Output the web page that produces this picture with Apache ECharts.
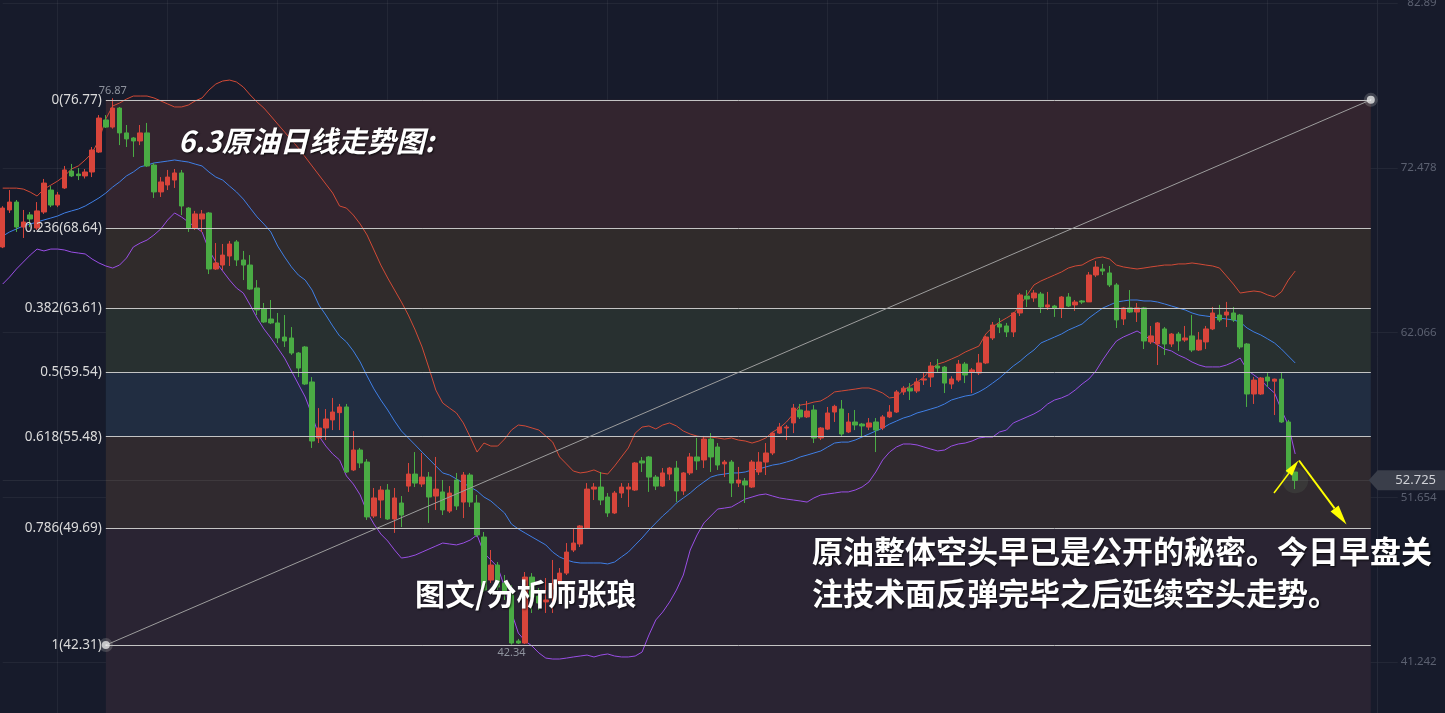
<!DOCTYPE html>
<html>
<head>
<meta charset="utf-8">
<script src="https://cdn.jsdelivr.net/npm/echarts@6.0.0/dist/echarts.min.js"></script>
<style>
html,body{margin:0;padding:0;background:#171b2b;}
#c{width:1445px;height:713px;}
</style>
</head>
<body>
<div id="c"></div>
<script>
// ---------- DATA ----------
// 189 daily sessions followed by empty space to the right edge
const categories = Array.from({length: 201}, (_, i) => String(i));

const opens = [
67.47,69.81,70.31,68.73,69.50,68.67,69.68,71.07,70.12,71.20,
72.27,72.08,71.96,72.21,73.47,75.50,75.05,76.25,74.68,74.36,
74.17,74.68,72.65,70.95,71.39,71.70,72.15,69.93,68.67,69.24,
69.62,66.08,66.33,66.90,67.79,66.65,66.33,64.88,63.55,62.92,
62.67,61.78,61.72,60.77,61.15,58.94,55.40,56.03,56.54,57.00,
57.36,53.38,54.64,53.88,50.47,51.48,52.11,50.28,51.29,52.36,
53.12,52.49,52.93,51.73,51.99,50.78,52.74,51.35,53.06,51.29,
49.14,46.42,47.37,46.23,45.48,42.57,42.44,46.61,45.41,45.04,
45.85,46.23,46.86,48.32,48.70,49.71,52.17,52.30,51.67,50.66,
51.92,52.17,52.11,53.95,54.20,52.93,52.36,53.12,53.50,52.05,
53.19,54.20,54.01,55.33,54.83,53.76,53.88,52.55,52.68,52.30,
53.25,53.88,54.45,55.71,56.03,56.35,57.17,56.73,57.17,55.40,
55.96,57.04,57.23,55.78,56.41,56.28,56.09,56.41,56.03,56.73,
57.04,58.31,58.55,58.37,59.06,59.25,59.95,59.88,58.81,59.06,
60.07,59.57,59.51,60.14,61.72,62.60,62.48,62.10,63.30,64.37,
64.25,64.50,63.68,63.74,63.62,64.31,63.81,64.06,64.00,65.70,
66.08,65.83,65.07,62.92,63.62,63.36,63.62,61.47,61.34,62.29,
61.34,61.97,61.59,61.85,60.96,61.47,62.29,63.17,63.17,63.30,
63.17,61.34,58.18,58.18,59.25,58.99,59.12,56.41,53.25];

const closes = [
69.93,70.31,68.73,69.05,69.24,69.75,71.51,70.12,70.76,72.34,
71.96,71.98,72.21,73.60,75.62,75.05,76.25,74.68,74.30,74.17,
74.68,72.59,70.95,71.58,71.89,72.15,70.06,68.67,69.56,69.56,
66.08,66.46,66.96,67.66,66.65,66.33,64.81,63.49,62.73,62.67,
61.72,61.53,60.77,59.82,58.81,55.21,56.03,56.60,57.04,57.36,
53.25,54.64,53.82,50.41,51.61,52.11,50.28,51.61,50.53,53.12,
52.55,52.93,51.67,52.17,50.85,51.92,51.10,53.06,51.35,49.27,
45.79,47.37,45.98,45.66,42.44,42.44,46.61,45.35,44.97,45.16,
46.17,46.86,48.19,48.76,49.84,52.17,52.30,51.48,50.66,51.92,
52.30,52.30,53.82,53.82,52.93,52.36,53.19,53.50,52.05,53.19,
54.20,53.95,55.33,54.20,53.69,53.88,52.55,52.74,52.43,53.88,
53.88,54.45,55.71,56.09,56.09,57.29,56.73,57.10,55.40,56.03,
56.98,57.40,55.65,56.41,56.22,56.16,56.35,55.90,56.73,57.04,
58.31,58.55,58.37,58.94,59.13,59.95,59.82,58.87,59.13,60.07,
59.38,59.70,60.14,61.78,62.54,62.41,62.10,63.30,64.44,64.18,
64.56,63.68,63.81,63.62,64.31,63.74,63.99,63.99,65.70,66.20,
65.95,65.07,62.86,63.62,63.36,63.62,61.53,61.85,62.67,61.34,
61.97,61.53,61.72,60.96,61.59,62.29,63.30,62.86,63.36,62.86,
61.15,58.18,59.06,59.19,59.00,59.12,56.41,53.25,52.725];

const lows = [
67.40,69.62,68.42,68.04,68.73,68.55,69.56,69.99,69.99,71.14,
71.89,71.70,71.80,71.89,73.41,74.99,74.95,73.91,73.79,73.16,
73.91,72.53,70.57,70.63,71.07,71.20,69.49,68.42,68.55,68.42,
65.76,66.02,66.02,66.27,66.27,65.38,64.75,63.17,62.67,62.60,
61.40,61.15,60.65,59.25,58.75,54.77,55.08,55.27,55.90,55.90,
53.19,53.31,53.50,50.22,50.34,50.34,50.22,49.40,49.77,51.99,
52.30,52.30,50.03,50.85,50.53,50.66,50.85,50.34,51.04,49.14,
45.66,46.23,45.79,45.16,42.34,42.38,42.38,44.34,44.53,44.34,
44.34,46.10,46.74,48.19,48.51,49.65,51.48,51.16,50.41,50.60,
51.61,51.04,52.05,53.25,51.99,52.11,52.30,52.74,51.35,51.80,
53.06,53.38,53.50,53.25,53.38,52.93,51.67,52.30,51.29,52.24,
53.06,53.06,54.32,55.65,55.27,55.71,56.60,56.66,55.08,55.27,
55.90,56.41,55.53,55.71,55.90,55.46,55.90,54.51,55.90,56.66,
56.98,58.12,57.80,58.24,58.75,58.62,59.57,58.24,58.50,58.94,
58.87,58.24,59.38,60.07,61.59,62.03,61.78,61.78,63.11,63.68,
64.00,63.30,63.49,63.05,62.98,63.68,63.43,63.87,64.00,65.57,
65.70,64.94,62.35,62.54,63.30,62.73,61.02,61.34,60.01,60.64,
61.15,60.90,61.47,60.83,60.90,61.02,62.22,62.73,62.41,62.73,
61.02,57.36,57.55,58.12,58.62,56.85,56.35,53.19,52.17];

const highs = [
70.05,71.07,70.44,69.81,69.68,70.31,71.77,71.32,70.95,72.59,
72.72,72.46,72.40,73.79,75.81,75.81,76.87,76.32,75.18,74.42,
75.18,75.31,72.78,71.89,72.34,72.40,72.34,69.99,69.75,69.81,
69.68,67.72,67.66,67.85,67.91,67.22,66.96,65.38,63.93,64.12,
63.30,63.17,62.41,60.83,61.21,59.25,57.29,57.23,57.93,57.55,
57.55,55.84,54.77,54.07,52.24,52.36,52.49,52.24,51.73,53.82,
54.51,54.45,53.25,54.20,52.74,52.36,53.19,53.25,53.19,51.80,
49.46,48.32,47.56,46.74,46.10,42.70,46.93,46.86,45.92,46.55,
47.69,47.18,48.76,49.71,49.90,52.55,52.55,53.25,51.92,52.05,
52.55,52.55,53.88,54.20,54.26,53.06,53.50,53.57,53.95,53.25,
54.45,55.40,55.53,55.71,55.08,54.01,54.01,53.57,52.87,54.01,
54.51,55.08,55.78,56.35,56.22,57.55,57.55,57.74,57.48,56.09,
57.36,57.50,57.80,56.98,57.17,56.35,56.66,56.66,56.85,57.48,
58.43,58.68,58.87,59.19,59.57,60.20,60.39,59.95,59.30,60.33,
60.20,59.82,60.71,61.85,62.73,62.98,62.67,63.36,64.56,64.75,
64.75,64.63,64.63,63.81,64.37,64.56,64.12,64.12,65.89,66.58,
66.40,66.27,65.19,63.68,64.75,63.93,63.68,62.48,62.73,62.41,
62.03,62.10,62.48,63.17,62.10,62.48,63.68,63.81,64.00,63.68,
63.24,61.40,59.25,59.25,59.50,59.15,59.57,56.54,53.25];

const bollUpper = [
71.19,71.19,71.19,71.13,70.94,70.69,71.13,71.38,71.64,71.96,
72.40,72.59,72.97,73.41,74.23,75.56,76.38,76.57,76.82,77.01,
77.01,77.01,76.89,76.70,76.51,76.32,76.32,76.44,76.70,76.89,
77.39,77.77,77.96,78.02,77.90,77.58,77.08,76.63,76.25,75.75,
75.24,74.74,74.23,73.73,73.16,72.59,72.02,71.45,70.88,70.06,
69.93,69.49,68.92,68.23,67.28,66.33,65.51,64.75,63.99,63.17,
62.22,61.15,59.82,58.43,57.61,57.29,56.98,56.35,55.46,54.51,
55.08,54.89,54.89,55.33,55.90,56.22,56.16,56.03,55.90,55.52,
55.14,54.20,53.76,53.31,53.19,53.25,53.38,53.19,53.12,53.63,
54.20,54.77,55.71,56.09,56.16,55.97,56.22,56.35,56.16,55.84,
55.65,55.52,55.46,55.46,55.40,55.33,55.40,55.27,55.21,55.08,
55.21,55.40,55.78,56.03,56.41,56.92,57.48,57.55,57.67,57.74,
57.99,58.31,58.37,58.43,58.49,58.56,58.56,58.43,58.24,57.93,
57.99,58.43,58.68,58.94,59.25,59.76,60.07,60.20,60.39,60.58,
60.83,61.02,61.21,61.97,62.41,62.73,62.98,63.24,63.80,64.44,
65.07,65.32,65.51,65.70,65.89,66.14,66.27,66.33,66.58,66.77,
66.84,66.71,66.33,66.21,66.14,66.08,66.14,66.21,66.27,66.33,
66.33,66.40,66.40,66.46,66.40,66.33,66.27,66.14,65.64,65.13,
64.56,64.63,64.69,64.63,64.44,64.31,64.63,65.38,65.95];

const bollMid = [
68.16,68.42,68.61,68.80,68.92,69.05,69.18,69.30,69.43,69.62,
69.75,69.87,70.06,70.31,70.57,70.88,71.26,71.58,71.96,72.21,
72.53,72.65,72.78,72.84,72.90,72.97,72.90,72.84,72.71,72.59,
72.21,71.89,71.70,71.32,70.95,70.50,69.93,69.37,68.92,68.42,
67.53,66.84,66.21,65.70,65.38,64.75,63.80,63.17,62.48,61.85,
61.47,60.90,60.20,59.32,58.50,57.80,57.17,56.47,55.84,55.40,
54.96,54.51,54.07,53.63,53.19,53.06,52.81,52.55,52.30,52.05,
51.67,51.42,51.04,50.66,49.96,49.65,49.39,49.14,48.89,48.64,
48.19,47.88,47.69,47.56,47.50,47.50,47.50,47.50,47.44,47.56,
47.88,48.19,48.64,49.08,49.58,50.03,50.47,50.85,51.29,51.61,
51.92,52.30,52.62,52.93,53.06,53.12,53.19,53.19,53.25,53.38,
53.44,53.57,53.69,53.76,53.88,54.01,54.20,54.32,54.45,54.58,
54.83,55.08,55.14,55.14,55.27,55.46,55.65,55.84,56.03,56.28,
56.47,56.66,56.79,56.98,57.10,57.23,57.36,57.55,57.80,57.93,
58.05,58.12,58.31,58.56,58.87,59.19,59.57,59.95,60.26,60.64,
60.96,61.40,61.59,61.78,61.97,62.22,62.41,62.60,62.98,63.30,
63.61,63.80,63.99,64.06,64.12,64.12,64.06,64.06,63.99,63.87,
63.74,63.61,63.49,63.30,63.17,63.11,63.05,62.98,62.92,62.86,
62.73,62.35,62.10,61.91,61.66,61.40,61.02,60.58,60.14];

const bollLower = [
65.13,65.57,66.08,66.52,66.96,67.34,67.22,67.34,67.34,67.28,
67.15,67.09,67.03,66.71,66.46,66.27,66.14,66.33,66.77,67.47,
67.72,67.91,68.23,68.61,69.18,69.62,69.37,69.05,68.73,68.42,
67.28,66.52,65.95,65.38,64.88,64.56,63.80,62.98,62.29,61.72,
61.09,60.45,59.63,58.81,57.99,56.85,55.52,54.89,54.39,54.01,
53.00,52.49,51.80,50.72,49.96,49.33,48.89,48.32,47.81,47.88,
48.00,48.19,48.38,48.57,48.76,48.70,48.64,48.76,48.95,49.27,
48.13,47.69,47.25,45.98,44.40,43.07,42.57,42.25,41.81,41.49,
41.43,41.43,41.49,41.56,41.62,41.68,41.56,41.68,41.75,41.62,
41.56,41.56,41.62,41.87,42.95,43.90,44.40,45.03,45.79,46.74,
48.32,49.27,50.03,50.47,50.91,50.97,51.04,51.29,51.54,51.67,
51.80,51.86,51.73,51.61,51.54,51.48,51.42,51.35,51.61,51.80,
51.86,51.92,51.99,51.99,52.11,52.30,52.62,53.25,54.01,54.51,
54.83,55.02,55.02,54.96,54.83,54.70,54.58,54.64,54.89,55.02,
55.08,55.21,55.40,55.46,55.46,55.78,55.90,56.35,56.54,56.73,
56.92,57.17,57.55,57.80,57.93,58.12,58.43,58.81,59.13,59.63,
60.33,60.96,61.53,61.78,61.97,62.16,61.91,61.59,61.28,61.02,
60.90,60.64,60.45,60.20,60.01,59.89,59.89,59.89,60.01,60.20,
60.45,59.70,59.38,59.06,58.62,58.24,57.17,56.22,54.39];

const fibRatios = ['0', '0.236', '0.382', '0.5', '0.618', '0.786', '1'];
const fibValues = [76.77, 68.64, 63.61, 59.54, 55.48, 49.69, 42.31];
const yTicks = [41.242, 51.654, 62.066, 72.478, 82.89];
const lastPrice = 52.725;

// ---------- CHART ----------
const yMin = 38.019, yMax = 83.08;
const fibStart = 15, fibEnd = 199;
const fibColors = ['#33252f', '#302b2b', '#283030', '#212d41', '#302a2f', '#2a2433', '#2a2433'];

const candleData = opens.map((o, i) => [o, closes[i], lows[i], highs[i]]);

const fibAreas = [];
for (let k = 0; k < fibValues.length; k++) {
  const lower = k < fibValues.length - 1 ? fibValues[k + 1] : yMin;
  fibAreas.push([
    {xAxis: fibStart, yAxis: fibValues[k], itemStyle: {color: fibColors[k]}},
    {xAxis: fibEnd, yAxis: lower}
  ]);
}
const fibLines = fibValues.map((v, k) => [
  {coord: [fibStart, v], name: fibRatios[k] + '(' + v.toFixed(2) + ')'},
  {coord: [fibEnd, v]}
]);

const gridLineColor = 'rgba(255,255,255,0.055)';

const chart = echarts.init(document.getElementById('c'));
const option = {
  backgroundColor: '#171b2b',
  animation: false,
  textStyle: {fontFamily: '"Noto Sans", sans-serif'},
  grid: {left: 2.7, right: 67.3, top: 0, bottom: 0, containLabel: false, outerBoundsMode: 'none'},
  xAxis: {
    type: 'category', data: categories, boundaryGap: false,
    axisLine: {show: false}, axisTick: {show: false}, axisLabel: {show: false},
    splitLine: {show: true, interval: (i) => i % 16 === 8, lineStyle: {color: gridLineColor, width: 1}}
  },
  yAxis: {
    type: 'value', position: 'right', min: yMin, max: yMax,
    axisLine: {show: true, lineStyle: {color: '#262a39'}},
    axisTick: {show: true, customValues: yTicks, length: 20, lineStyle: {color: gridLineColor}},
    axisLabel: {
      customValues: yTicks, color: '#5b6070', fontSize: 11.5, align: 'right', margin: 59,
      formatter: (v) => String(v)
    },
    splitLine: {show: true, lineStyle: {color: gridLineColor, width: 1}}
  },
  series: [
    {
      name: 'fibBands', type: 'line', data: [], z: 1, silent: true,
      markArea: {silent: true, data: fibAreas}
    },
    {
      name: 'K', type: 'candlestick', data: candleData, z: 3, barWidth: 5,
      itemStyle: {color: '#d8453b', color0: '#4aab44', borderColor: '#d8453b', borderColor0: '#4aab44', borderWidth: 1},
      markPoint: {
        symbol: 'circle', symbolSize: 1, silent: true,
        itemStyle: {color: 'rgba(0,0,0,0)'},
        data: [
          {type: 'max', valueDim: 'highest', label: {position: 'top', distance: 1}},
          {type: 'min', valueDim: 'lowest', label: {position: 'bottom', distance: 2}}
        ],
        label: {show: true, color: '#8e929d', fontSize: 11, formatter: (p) => Number(p.value).toFixed(2)}
      },
      markLine: {
        silent: true, symbol: ['none', 'none'],
        lineStyle: {color: 'rgba(255,255,255,0.07)', width: 1, type: 'solid'},
        label: {show: false},
        data: [{yAxis: lastPrice}]
      }
    },
    {name: 'UP', type: 'line', data: bollUpper, z: 3, symbol: 'none', lineStyle: {color: '#d24a36', width: 1}},
    {name: 'MB', type: 'line', data: bollMid, z: 3, symbol: 'none', lineStyle: {color: '#3f7fe6', width: 1}},
    {name: 'DN', type: 'line', data: bollLower, z: 3, symbol: 'none', lineStyle: {color: '#9a4ee6', width: 1}},
    {
      name: 'fibLines', type: 'line', data: [], z: 4, silent: true,
      markLine: {
        silent: true, symbol: ['none', 'none'],
        lineStyle: {color: '#c4c4c4', width: 1, type: 'solid'},
        label: {show: true, position: 'start', formatter: '{b}', color: '#dadada', fontSize: 13.5, distance: 4},
        data: fibLines.concat([[
          {coord: [fibStart, fibValues[6]], lineStyle: {color: '#9d9d9d'}, label: {show: false}},
          {coord: [fibEnd, fibValues[0]]}
        ]])
      }
    },
    {
      name: 'anchors', type: 'scatter', z: 5, silent: true,
      data: [[fibStart, fibValues[6]], [fibEnd, fibValues[0]]],
      symbolSize: 8,
      itemStyle: {color: '#ffffff', borderColor: 'rgba(170,170,170,0.35)', borderWidth: 6}
    }
  ]
};
chart.setOption(option);

// ---------- annotations ----------
function arrowShapes(x1, y1, x2, y2, w, headLen, headW, color) {
  const dx = x2 - x1, dy = y2 - y1, L = Math.hypot(dx, dy), ux = dx / L, uy = dy / L;
  const bx = x2 - ux * headLen, by = y2 - uy * headLen;
  const nx = -uy, ny = ux;
  return [
    {type: 'line', z: 100, silent: true, shape: {x1: x1, y1: y1, x2: bx, y2: by}, style: {stroke: color, lineWidth: w}},
    {type: 'polygon', z: 100, silent: true, shape: {points: [[x2, y2], [bx + nx * headW / 2, by + ny * headW / 2], [bx - nx * headW / 2, by - ny * headW / 2]]}, style: {fill: color}}
  ];
}
const [px, py] = chart.convertToPixel({gridIndex: 0}, [closes.length - 1, lastPrice]);
const [rightX] = chart.convertToPixel({gridIndex: 0}, [categories.length - 1, lastPrice]);

const cjkFont = '"Noto Sans CJK SC", sans-serif';
const shadow = {textShadowColor: 'rgba(0,0,0,0.75)', textShadowBlur: 2, textShadowOffsetX: 1, textShadowOffsetY: 1};
const graphics = [
  {type: 'circle', z: 2, silent: true, shape: {cx: px, cy: py, r: 13}, style: {fill: 'rgba(90,110,90,0.22)'}},
  {type: 'text', z: 100, silent: true, style: Object.assign({x: 178, y: 141, text: '6.3原油日线走势图:', fill: '#ffffff', font: 'italic bold 29px ' + cjkFont, verticalAlign: 'middle'}, shadow)},
  {type: 'text', z: 100, silent: true, style: Object.assign({x: 415, y: 594, text: '图文/分析师张琅', fill: '#ffffff', font: 'bold 30px ' + cjkFont, verticalAlign: 'middle'}, shadow)},
  {type: 'text', z: 100, silent: true, style: Object.assign({x: 812, y: 551, text: '原油整体空头早已是公开的秘密。今日早盘关', fill: '#ffffff', font: 'bold 31px ' + cjkFont, verticalAlign: 'middle'}, shadow)},
  {type: 'text', z: 100, silent: true, style: Object.assign({x: 812, y: 593, text: '注技术面反弹完毕之后延续空头走势。', fill: '#ffffff', font: 'bold 31px ' + cjkFont, verticalAlign: 'middle'}, shadow)},
  {type: 'polygon', z: 100, silent: true, shape: {points: [[rightX - 9, py], [rightX, py - 10], [1445, py - 10], [1445, py + 10], [rightX, py + 10]]}, style: {fill: '#3a3e4a'}},
  {type: 'text', z: 101, silent: true, style: {x: 1436, y: py, text: lastPrice.toFixed(3), fill: '#cfd1d6', font: '13px "Noto Sans"', align: 'right', verticalAlign: 'middle'}}
].concat(
  arrowShapes(1274, 493, 1298.5, 460.5, 1.5, 16, 8, '#ffff00'),
  arrowShapes(1299, 460.5, 1346.5, 524.5, 2, 20, 10, '#ffff00')
);
chart.setOption({graphic: graphics});
</script>
</body>
</html>
